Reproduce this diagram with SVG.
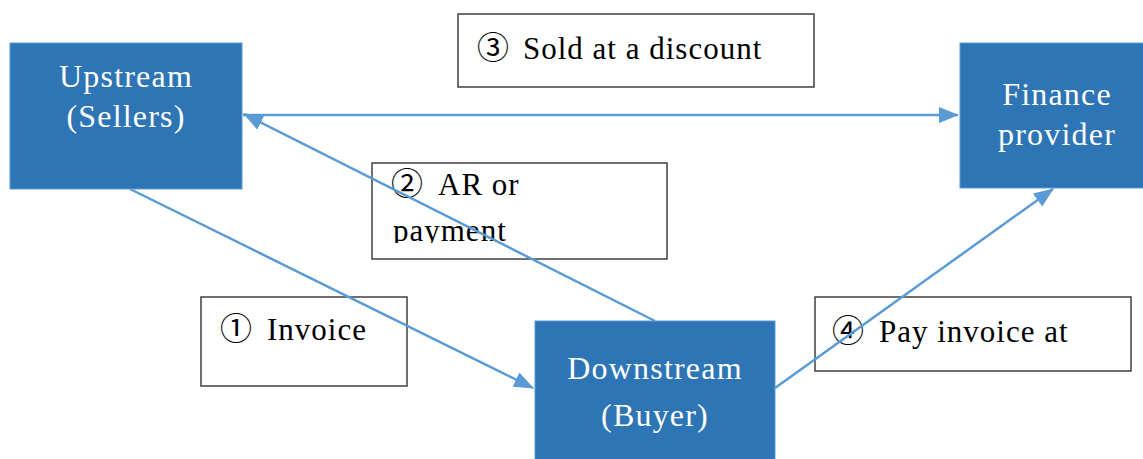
<svg xmlns="http://www.w3.org/2000/svg" width="1143" height="459" viewBox="0 0 1143 459">
<style>
.node{fill:#2E75B6;stroke:#5B9BD5;stroke-width:1}
.lbl{fill:#fff;stroke:#404040;stroke-width:1.5}
.wt{font-family:"Liberation Serif","DejaVu Serif",serif;font-size:32px;letter-spacing:1.2px;fill:#fff;text-anchor:middle}
.bt{font-family:"Liberation Serif","DejaVu Serif",serif;font-size:31px;letter-spacing:1px;fill:#000}
.d{font-family:"Noto Sans CJK JP","DejaVu Sans",sans-serif;font-size:32px;letter-spacing:0}
</style>
<defs>
<marker id="ahb" viewBox="0 0 20 16" refX="19" refY="8" markerWidth="20" markerHeight="16" orient="auto" markerUnits="userSpaceOnUse">
<path d="M0,0 L20,8 L0,16 z" fill="#5B9BD5"/>
</marker>
<clipPath id="c2"><rect x="372" y="163" width="295" height="80"/></clipPath>
</defs>
<g id="label3"><rect class="lbl" x="458" y="14" width="356" height="73"/><text class="bt" y="59"><tspan class="d" x="477">③</tspan><tspan x="523">Sold at a discount</tspan></text></g>
<g id="label2"><rect class="lbl" x="372" y="163" width="295" height="96"/><g clip-path="url(#c2)"><text class="bt" y="195"><tspan class="d" x="391">②</tspan><tspan x="438">AR or</tspan></text><text class="bt" x="393" y="241">payment</text></g></g>
<g id="label1"><rect class="lbl" x="201" y="297" width="206" height="89"/><text class="bt" y="340"><tspan class="d" x="220">①</tspan><tspan x="267">Invoice</tspan></text></g>
<g id="label4"><rect class="lbl" x="815" y="297" width="316" height="74"/><text class="bt" y="342"><tspan class="d" x="832">④</tspan><tspan x="879">Pay invoice at</tspan></text></g>
<g id="upstream"><rect class="node" x="10" y="43" width="232" height="146"/><text class="wt" x="126" y="87">Upstream</text><text class="wt" x="126" y="127">(Sellers)</text></g>
<g id="finance"><rect class="node" x="960" y="43" width="190" height="145"/><text class="wt" x="1057" y="105">Finance</text><text class="wt" x="1057" y="145">provider</text></g>
<g id="downstream"><rect class="node" x="535" y="321" width="240" height="145"/><text class="wt" x="655" y="379">Downstream</text><text class="wt" x="655" y="426">(Buyer)</text></g>
<g id="connectors">
<line x1="243" y1="115" x2="958" y2="115" stroke="#5B9BD5" stroke-width="2.5" marker-end="url(#ahb)"/>
<line x1="655" y1="321" x2="244" y2="114" stroke="#5B9BD5" stroke-width="2.5" marker-end="url(#ahb)"/>
<line x1="130" y1="189" x2="533" y2="388" stroke="#5B9BD5" stroke-width="2.5" marker-end="url(#ahb)"/>
<line x1="775" y1="388" x2="1053" y2="189" stroke="#5B9BD5" stroke-width="2.5" marker-end="url(#ahb)"/>
</g>
</svg>
